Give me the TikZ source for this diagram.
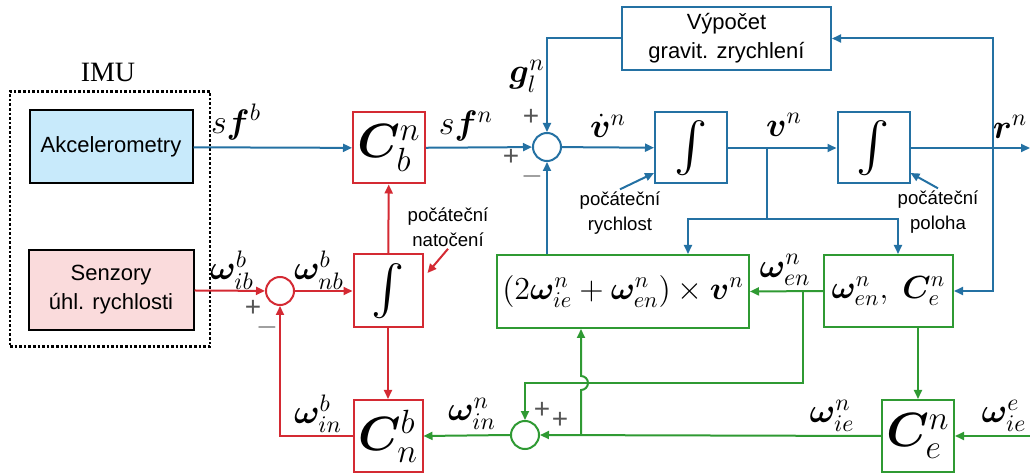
\RequirePackage{fix-cm}
\documentclass[tikz,border=0pt]{standalone}
\usepackage{amsmath,bm}
\usepackage{fontspec}
\setmainfont{Liberation Sans}
\newfontfamily\imufont{Liberation Serif}
\usepackage{xcolor}
\definecolor{flowblue}{HTML}{2471A3}
\definecolor{flowred}{HTML}{D42A33}
\definecolor{flowgreen}{HTML}{2F9A33}
\definecolor{accfill}{HTML}{C8EAFB}
\definecolor{gyrofill}{HTML}{FADBDC}
\definecolor{signgray}{HTML}{555555}
\usetikzlibrary{positioning,arrows.meta,calc}
\tikzset{
  blk/.style={draw, line width=1pt, align=center, inner sep=2pt, font=\fontsize{11}{14.5}\selectfont},
  bblk/.style={blk, draw=flowblue},
  rblk/.style={blk, draw=flowred},
  gblk/.style={blk, draw=flowgreen},
  sumnode/.style={circle, line width=1pt, minimum size=14pt, inner sep=0pt},
  mbig/.style={font=\fontsize{24}{28}\selectfont},
  mmid/.style={font=\fontsize{16}{20}\selectfont},
  sig/.style={font=\fontsize{17}{20}\selectfont, inner sep=1pt},
  note/.style={align=center, font=\fontsize{9.3}{12.5}\selectfont, inner sep=1pt},
  sgn/.style={text=signgray, font=\fontsize{14}{14}\selectfont, inner sep=0pt},
  tip/.style={-{Triangle[length=4.5pt,width=4pt]}},
  bline/.style={line width=1pt, flowblue},
  rline/.style={line width=1pt, flowred},
  gline/.style={line width=1pt, flowgreen},
  bedge/.style={bline, tip},
  redge/.style={rline, tip},
  gedge/.style={gline, tip},
}
\begin{document}
\begin{tikzpicture}[x=0.5pt,y=-0.5pt]
  \useasboundingbox (0,0) rectangle (1030,476);
  \node[draw, densely dotted, line width=1.3pt, minimum width=100pt, minimum height=127.5pt] (imu) at (110,219) {};
  \node[font=\imufont\fontsize{14}{16}\selectfont] (imulbl) at (108,72) {IMU};
  \node[blk, fill=accfill, minimum width=81.5pt, minimum height=36.5pt] (acc) at (111,147) {Akcelerometry};
  \node[blk, fill=gyrofill, minimum width=82.5pt, minimum height=40pt] (gyro) at (111,290) {Senzory\\úhl. rychlosti};
  \node[rblk, mbig, minimum width=36pt, minimum height=35.5pt] (cbn) at (389,148) {$\bm{C}^n_b$};
  \node[sumnode, draw=flowblue] (sum1) at (547,147) {};
  \node[bblk, minimum width=104.5pt, minimum height=31.5pt] (grav) at (726.5,38.5) {Výpočet\\gravit. zrychlení};
  \node[bblk, mbig, minimum width=36pt, minimum height=35.5pt] (int1) at (691,148) {$\int$};
  \node[bblk, mbig, minimum width=36pt, minimum height=35.5pt] (int2) at (873.5,148) {$\int$};
  \node[sumnode, draw=flowred] (sum2) at (280,291) {};
  \node[rblk, mbig, minimum width=34.5pt, minimum height=36.5pt] (int3) at (388,291) {$\int$};
  \node[rblk, mbig, minimum width=34.5pt, minimum height=36pt] (cnb) at (388,436) {$\bm{C}^b_n$};
  \node[sumnode, draw=flowgreen] (sum3) at (525,435) {};
  \node[gblk, mmid, minimum width=126pt, minimum height=36.5pt] (cor) at (623,291.5) {$(2\bm{\omega}^n_{ie}+\bm{\omega}^n_{en})\times\bm{v}^n$};
  \node[gblk, mmid, minimum width=64.5pt, minimum height=36pt] (wen) at (888.5,291) {$\bm{\omega}^n_{en},\;\bm{C}^n_e$};
  \node[gblk, mbig, minimum width=36pt, minimum height=36pt] (cen) at (918,436) {$\bm{C}^n_e$};

  \node[sig] (sfb) at (236,122) {$s\bm{f}^b$};
  \node[sig] (sfn) at (466,126) {$s\bm{f}^n$};
  \node[sig] (gln) at (527,76) {$\bm{g}^n_l$};
  \node[sig] (vdot) at (608,126) {$\dot{\bm{v}}^n$};
  \node[sig] (vn) at (784,125) {$\bm{v}^n$};
  \node[sig] (rn) at (1010,127) {$\bm{r}^n$};
  \node[sig] (wib) at (232,270) {$\bm{\omega}^b_{ib}$};
  \node[sig] (wnb) at (319,270) {$\bm{\omega}^b_{nb}$};
  \node[sig] (winb) at (318,414) {$\bm{\omega}^b_{in}$};
  \node[sig] (winn) at (472,414) {$\bm{\omega}^n_{in}$};
  \node[sig] (wenn) at (785,270) {$\bm{\omega}^n_{en}$};
  \node[sig] (wien) at (832,416) {$\bm{\omega}^n_{ie}$};
  \node[sig] (wiee) at (1004,416) {$\bm{\omega}^e_{ie}$};

  \node[sgn] (p1) at (531,117) {+};
  \node[sgn] (p2) at (511,157) {+};
  \node[sgn] (m1) at (532,177) {$-$};
  \node[sgn] (p3) at (253,308) {+};
  \node[sgn] (m2) at (267,328) {$-$};
  \node[sgn] (p4) at (542,410) {+};
  \node[sgn] (p5) at (560,420) {+};

  \node[note] (r0) at (620,213) {počáteční\\rychlost};
  \node[note] (p0) at (938,212) {počáteční\\poloha};
  \node[note] (n0) at (448,227) {počáteční\\natočení};

  \coordinate (vsplit) at (767,219);
  \coordinate (rsplit) at (993,148);
  \coordinate (rout) at (1030,148);
  \coordinate (wsplit) at (803,291);
  \coordinate (iesplit) at (581,435);
  \coordinate (wiein) at (1030,436);

  \draw[bedge] (acc) -- (cbn);
  \draw[bedge] (cbn) -- (sum1);
  \draw[bedge] (grav.west) -| (sum1.north);
  \draw[bedge] (sum1) -- (int1);
  \draw[bedge] (int1) -- (int2);
  \draw[bedge] (int2) -- (rout);
  \draw[bline] (int1.east -| vsplit) -- (vsplit);
  \draw[bedge] (vsplit) -| ([xshift=32.5pt]cor.north);
  \draw[bedge] (vsplit) -| ([xshift=4.75pt]wen.north);
  \draw[bedge] (rsplit) |- (grav.east);
  \draw[bedge] (rsplit) |- (wen.east);
  \draw[bedge] ([xshift=-38pt]cor.north) -- (sum1.south);
  \draw[bedge] (r0.north) -- ([yshift=5.75pt]int1.south west);
  \draw[bedge] (p0.north) -- ([yshift=5.75pt]int2.south east);

  \draw[redge] (gyro) -- (sum2);
  \draw[redge] (sum2) -- (int3);
  \draw[redge] (int3) -- (cbn);
  \draw[redge] (int3) -- (cnb);
  \draw[redge] (cnb.west) -| (sum2.south);
  \draw[redge] (n0.south) -- ([shift={(2pt,9pt)}]int3.east);

  \draw[gedge] (wen.west) -- (cor.east);
  \draw[gedge] (wsplit) -- ++(0,92) -| (sum3.north);
  \draw[gedge] (wen.south -| cen.north) -- (cen.north);
  \draw[gedge] (wiein) -- (cen.east);
  \draw[gedge] (cen.west) -- (sum3.east);
  \draw[gedge] (iesplit) -- (581,390) arc[start angle=-90, end angle=90, radius=3.5pt] -- (cor.south -| iesplit);
  \draw[gedge] (sum3.west) -- (cnb.east);
\end{tikzpicture}
\end{document}
